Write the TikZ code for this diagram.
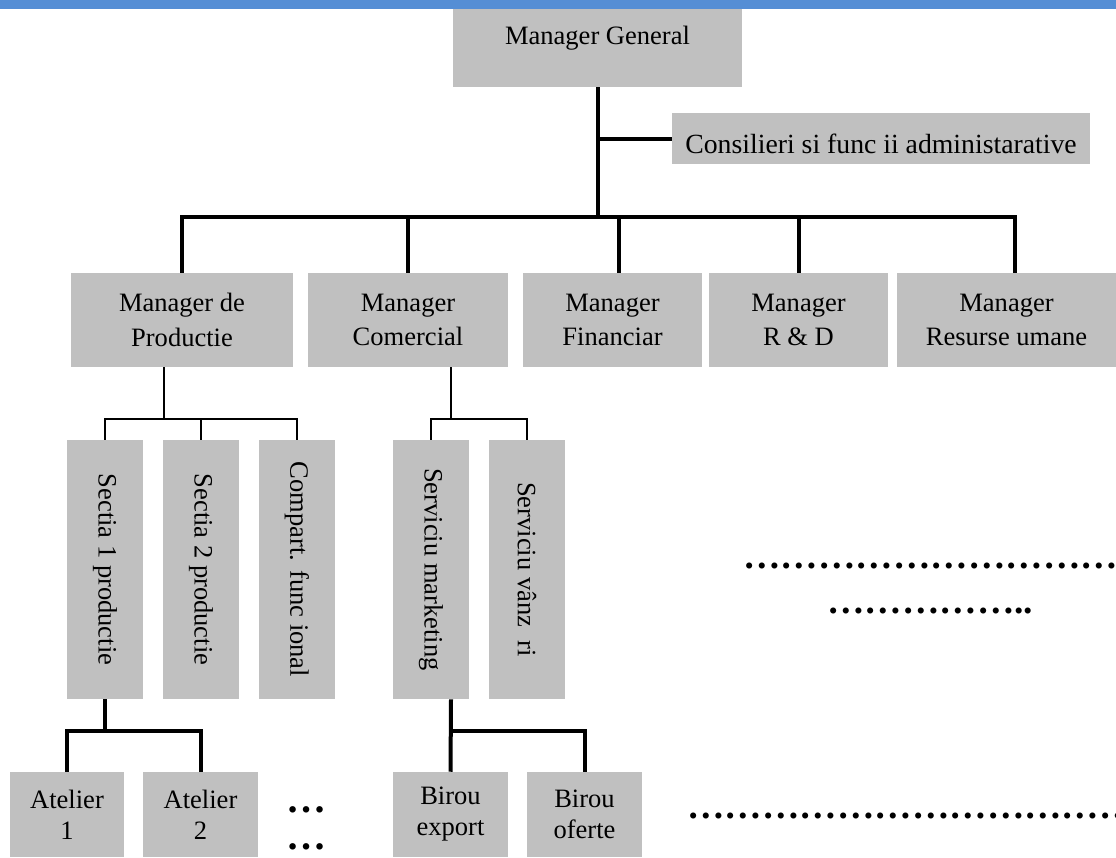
\documentclass[tikz,border=0pt]{standalone}
\usepackage{fontspec}
\setmainfont{Liberation Serif}
\usepackage{graphicx}
\definecolor{boxgray}{HTML}{C0C0C0}
\definecolor{barblue}{HTML}{558ED5}
\newcommand{\boxfont}{\fontsize{19.9pt}{25.7pt}\selectfont}
\newcommand{\leaffont}{\fontsize{19.9pt}{23.25pt}\selectfont}
\newcommand{\dotfont}{\fontsize{28.1pt}{28pt}\selectfont\bfseries}
\newcommand{\vtext}[1]{\rotatebox{-90}{#1}}

\begin{document}
\begin{tikzpicture}[
  x=0.75pt, y=-0.75pt,
  box/.style={fill=boxgray, inner sep=0pt, align=center, font=\boxfont},
  mgr/.style={box, minimum height=70.5pt},
  vbox/.style={box, minimum width=57pt, minimum height=194.25pt},
  leaf/.style={box, font=\leaffont, minimum height=63.75pt},
  thickline/.style={line width=3pt},
  thinline/.style={line width=1.5pt},
  dots/.style={inner sep=0pt, font=\dotfont}
]
\useasboundingbox (0,0) rectangle (1116,857);
\clip (0,0) rectangle (1116,857);

% title bar
\fill[barblue] (0,0) rectangle (1116,9);

% top management
\node[box, minimum width=216.75pt, text height=26.25pt, text depth=32.25pt] (mg) at (597.5,48) {Manager General};
\node[box, font=\fontsize{20.8pt}{25pt}\selectfont, minimum width=313.5pt, text height=30pt, text depth=8.25pt] (cons) at (881,138.5) {Consilieri si func ii administarative};

% department managers
\node[mgr, minimum width=166.5pt]  (mp)  at (182,320)    {Manager de\\Productie};
\node[mgr, minimum width=150pt]    (mc)  at (408,320)    {Manager\\Comercial};
\node[mgr, minimum width=134.25pt] (mf)  at (612.5,320)  {Manager\\Financiar};
\node[mgr, minimum width=134.25pt] (mrd) at (798.5,320)  {Manager\\R \& D};
\node[mgr, minimum width=164.25pt] (mru) at (1006.5,320) {Manager\\Resurse umane};

% sections and services
\node[vbox] (s1)  at (105,569.5) {\vtext{Sectia 1 productie}};
\node[vbox] (s2)  at (201,569.5) {\vtext{Sectia 2 productie}};
\node[vbox] (cfn) at (297,569.5) {\vtext{Compart. func ional}};
\node[vbox] (sm)  at (431,569.5) {\vtext{Serviciu marketing}};
\node[vbox] (sv)  at (527,569.5) {\vtext{Serviciu vânz\ \ ri}};

% workshops and offices
\node[leaf, minimum width=85.5pt]  (a1) at (67,814.5)    {Atelier\\1};
\node[leaf, minimum width=86.25pt] (a2) at (200.5,814.5) {Atelier\\2};
\node[leaf, minimum width=86.25pt] (be) at (450.5,814.5) {Birou\\export};
\node[leaf, minimum width=86.25pt] (bo) at (584.5,814.5) {Birou\\oferte};

% continuation marks
\node[dots, anchor=base west] (d1) at (743,568.6) {…………………………………};
\node[dots, anchor=base west] (d2) at (827,613.6) {……………..};
\node[dots, anchor=base west] (d3) at (687,818.6) {……………………………………};
\node[dots, font=\fontsize{30pt}{27.75pt}\selectfont\bfseries, align=left] (d4) at (306.5,828.5) {…\\…};

% level 1 -> level 2
\coordinate (hub) at (599,217);
\draw[thickline] (mg.south) -- (mg.south |- hub);
\draw[thickline] (cons.west) -- (cons.west -| mg.south);
\draw[thickline] (mp.north) -- ++(0,-56) -| ([xshift=6.4pt]mru.north);
\draw[thickline] (mc.north) -- ++(0,-56);
\draw[thickline] ([xshift=4.9pt]mf.north) -- ++(0,-56);
\draw[thickline] (mrd.north) -- ++(0,-56);

% level 2 -> level 3
\coordinate (pbus) at (164,419);
\draw[thinline] ([xshift=-13.5pt]mp.south) -- (pbus);
\draw[thinline] (s1.north) -- ++(0,-21) -| (cfn.north);
\draw[thinline] (s2.north) -- ++(0,-21);
\coordinate (cbus) at (451,419);
\draw[thinline] ([xshift=32.25pt]mc.south) -- (cbus);
\draw[thinline] (sm.north) -- ++(0,-21) -| (sv.north);

% level 3 -> level 4
\draw[thickline] (s1.south) -- ++(0,32);
\draw[thickline] (a1.north) -- ++(0,-41) -| (a2.north);
\draw[thickline] ([xshift=15pt]sm.south) -- (be.north);
\draw[thickline] (be.north) ++(0,-41) -| (bo.north);
\end{tikzpicture}
\end{document}
